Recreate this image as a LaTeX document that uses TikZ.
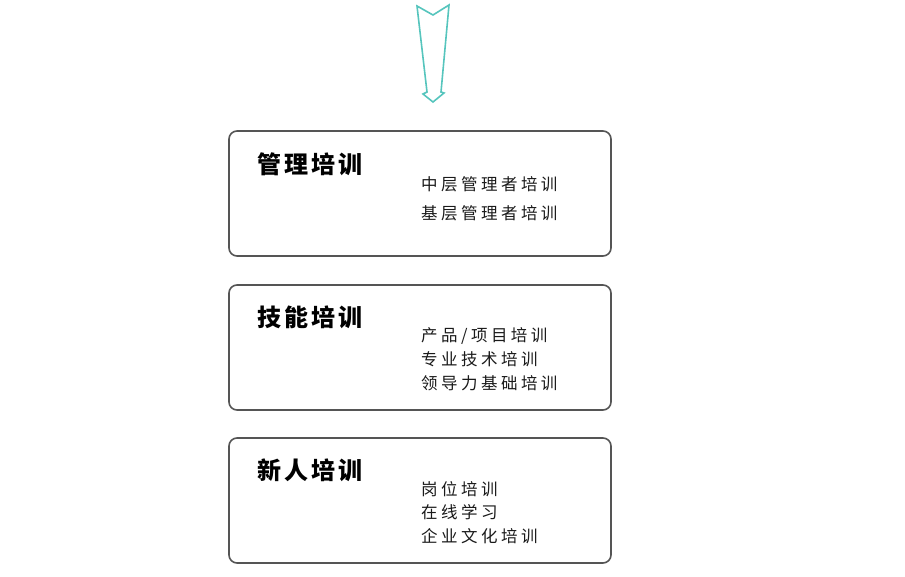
\documentclass[tikz,border=0pt]{standalone}
\usepackage{fontspec}
\newfontfamily\cjktitle[LetterSpace=13]{Noto Sans CJK SC}
\newfontfamily\cjkitem[LetterSpace=21]{Noto Sans CJK SC}
\definecolor{arrowteal}{HTML}{56C5BD}
\definecolor{boxgray}{HTML}{555555}
\definecolor{itemtext}{HTML}{1A1A1A}
\tikzset{
  catbox/.style={draw=boxgray, line width=1.6pt, rounded corners=8pt, fill=white},
  cattitle/.style={anchor=west, inner sep=0pt, font=\cjktitle\bfseries\fontsize{24}{26}\selectfont, text=black},
  catitem/.style={anchor=west, inner sep=0pt, font=\cjkitem\fontsize{16.5}{18}\selectfont, text=itemtext},
}
\begin{document}
\begin{tikzpicture}[x=1pt,y=-1pt]
\useasboundingbox (0,0) rectangle (905,577);
% top arrow
\draw[arrowteal, line width=1.6pt, line join=miter]
  (417,6) -- (433,15) -- (449,5) -- (441,92) -- (444,93) -- (433,102) -- (423,94) -- (427,92) -- cycle;
% boxes
\draw[catbox] (229,131) rectangle (611,256);
\draw[catbox] (229,285) rectangle (611,410);
\draw[catbox] (229,438) rectangle (611,563);
% box 1
\node[cattitle] (t1) at (257,164) {管理培训};
\node[catitem] (a1) at (421,184) {中层管理者培训};
\node[catitem] (a2) at (421,213) {基层管理者培训};
% box 2
\node[cattitle] (t2) at (257,317) {技能培训};
\node[catitem] (b1) at (421,336) {产品/项目培训};
\node[catitem] (b2) at (421,359) {专业技术培训};
\node[catitem] (b3) at (421,383) {领导力基础培训};
% box 3
\node[cattitle] (t3) at (257,470) {新人培训};
\node[catitem] (c1) at (421,489) {岗位培训};
\node[catitem] (c2) at (421,512) {在线学习};
\node[catitem] (c3) at (421,536) {企业文化培训};
\end{tikzpicture}
\end{document}
